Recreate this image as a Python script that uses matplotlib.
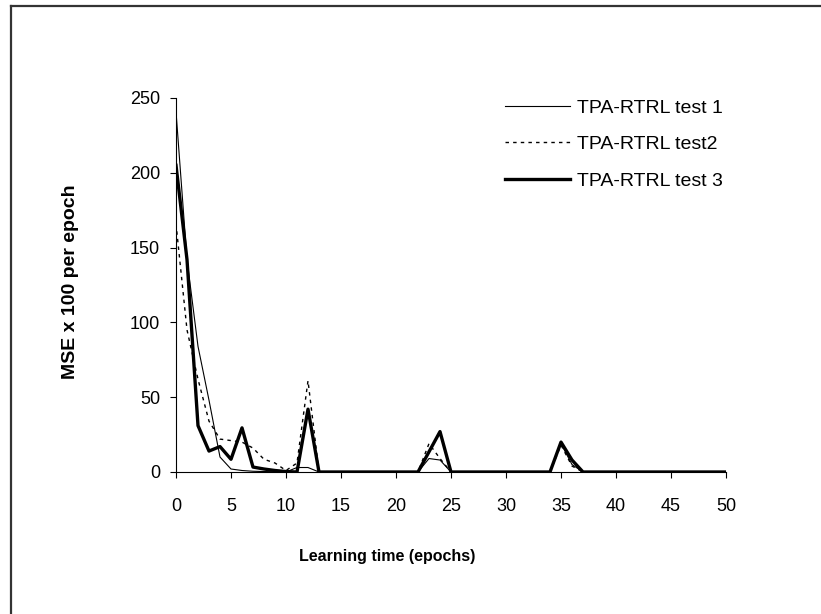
import matplotlib.pyplot as plt
from matplotlib.lines import Line2D

plt.rcParams['font.family'] = ['Liberation Sans', 'DejaVu Sans']

# MSE x 100 per epoch for three training runs
epochs = list(range(51))
test1 = [241, 142, 84, 48, 10, 2, 1, 0.5, 0.3, 0.2,
         0, 3, 3, 0, 0, 0, 0, 0, 0, 0,
         0, 0, 0, 9, 8, 0, 0, 0, 0, 0,
         0, 0, 0, 0, 0, 19, 5, 0, 0, 0,
         0, 0, 0, 0, 0, 0, 0, 0, 0, 0, 0]
test2 = [166, 95, 62, 34, 22, 21, 20, 16, 8.5, 6,
         1, 6, 61, 0, 0, 0, 0, 0, 0, 0,
         0, 0, 0, 19, 9, 0, 0, 0, 0, 0,
         0, 0, 0, 0, 0, 18, 4, 0, 0, 0,
         0, 0, 0, 0, 0, 0, 0, 0, 0, 0, 0]
test3 = [205, 142, 31, 14, 17, 8.5, 29.5, 3.3, 2, 1,
         0.3, 0, 42, 0, 0, 0, 0, 0, 0, 0,
         0, 0, 0, 13.5, 27, 0, 0, 0, 0, 0,
         0, 0, 0, 0, 0, 20, 8, 0, 0, 0,
         0, 0, 0, 0, 0, 0, 0, 0, 0, 0, 0]
labels = ["TPA-RTRL test 1", "TPA-RTRL test2", "TPA-RTRL test 3"]

fig = plt.figure(figsize=(8.21, 6.14), dpi=100)
ax = fig.add_axes([176 / 821, 1 - 472 / 614, 550 / 821, 374 / 614])

ax.plot(epochs, test1, color='black', lw=0.8, label=labels[0])
ax.plot(epochs, test2, color='black', lw=1.0, linestyle=(0, (2.5, 3)), label=labels[1])
ax.plot(epochs, test3, color='black', lw=2.4, label=labels[2])

ax.set_xlim(0, 50)
ax.set_ylim(0, 250)
ax.set_xticks(range(0, 51, 5))
ax.set_yticks(range(0, 251, 50))
ax.spines['top'].set_visible(False)
ax.spines['right'].set_visible(False)
ax.spines['left'].set_linewidth(0.8)
ax.spines['bottom'].set_linewidth(0.8)
ax.tick_params(axis='x', direction='out', length=4.5, width=0.8, labelsize=13, pad=14)
ax.tick_params(axis='y', direction='out', length=4.5, width=0.8, labelsize=13, pad=7)

ax.set_xlabel("Learning time (epochs)", fontsize=11.5, fontweight='bold')
ax.xaxis.set_label_coords(0.384, -0.225)
ax.xaxis.label.set_va('center')
ax.set_ylabel("MSE x 100 per epoch", fontsize=14, fontweight='bold')
ax.yaxis.set_label_coords(-0.192, 0.509)
ax.yaxis.label.set_va('center')

ax.legend(loc='upper left', bbox_to_anchor=(505 / 821, 1 - 99 / 614),
          bbox_transform=fig.transFigure, frameon=False, fontsize=14,
          handlelength=3.35, handletextpad=0.36, labelspacing=0.98,
          borderpad=0, borderaxespad=0)

# outer frame (left and top edges)
fig.add_artist(Line2D([11 / 821, 11 / 821], [0, 1 - 6 / 614], transform=fig.transFigure,
                      color='#333333', lw=1.6))
fig.add_artist(Line2D([11 / 821, 1], [1 - 6 / 614, 1 - 6 / 614], transform=fig.transFigure,
                      color='#333333', lw=1.6))

fig.savefig("out.png", dpi=100)
